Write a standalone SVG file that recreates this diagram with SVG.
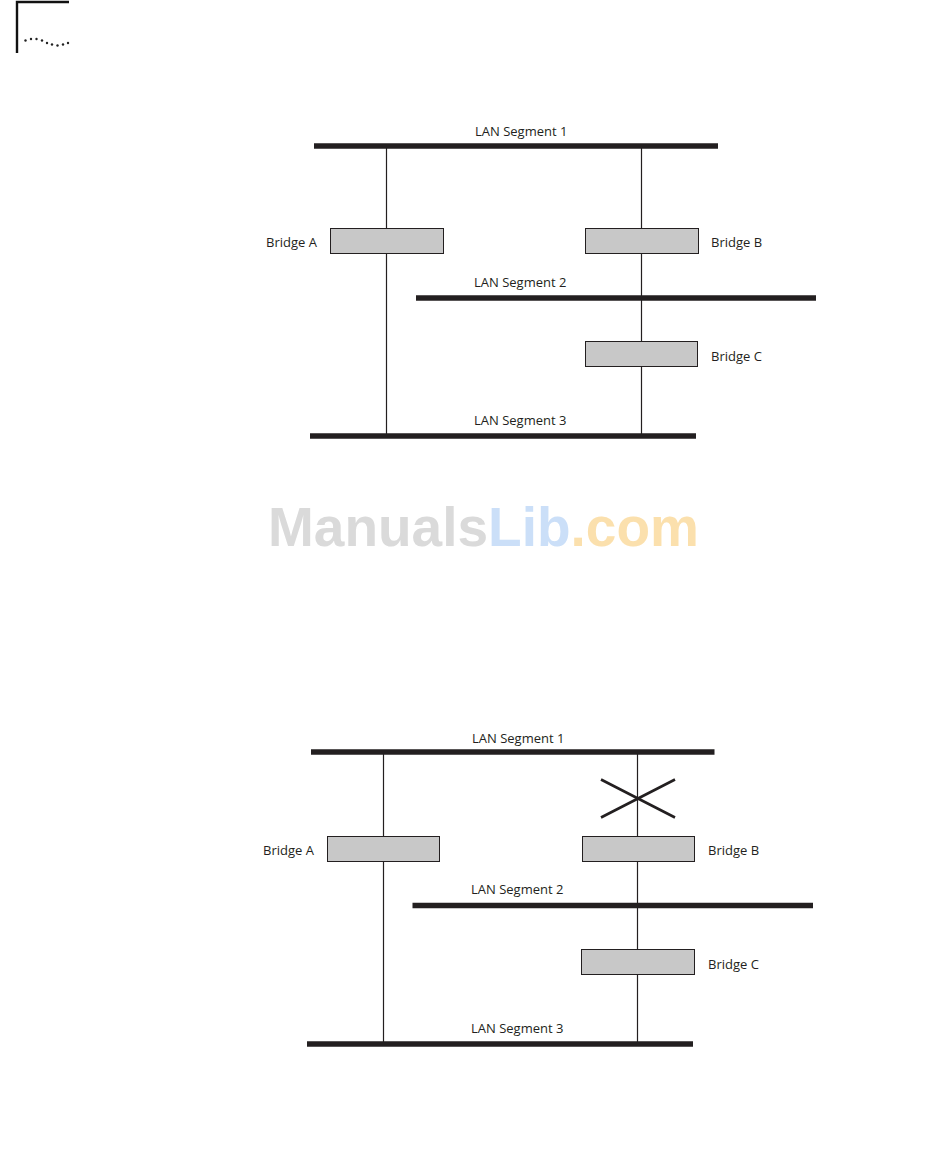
<svg xmlns="http://www.w3.org/2000/svg" width="950" height="1163" viewBox="0 0 950 1163">
<style>
.seg{stroke:#231f20;stroke-width:5.5;fill:none}
.wire{stroke:#231f20;stroke-width:1.2;fill:none}
.x{stroke:#231f20;stroke-width:2.6;fill:none}
.box{fill:#c8c8c8;stroke:#231f20;stroke-width:1}
.t{font-family:"Open Sans","Noto Sans",sans-serif;font-size:13px;fill:#231f20}
.wm{font-family:"Liberation Sans",Arial,sans-serif;font-size:55px;font-weight:bold}
</style>
<rect width="950" height="1163" fill="#fff"/>
<g id="page-mark">
<path d="M17 53V2H69" fill="none" stroke="#111" stroke-width="2.4"/>
<g fill="#222"><circle cx="25.500" cy="40.500" r="1.200"/><circle cx="31" cy="39" r="1.200"/><circle cx="36.500" cy="39" r="1.200"/><circle cx="42" cy="40.500" r="1.200"/><circle cx="47" cy="43" r="1.200"/><circle cx="52" cy="44.500" r="1.200"/><circle cx="57.500" cy="45.500" r="1.200"/><circle cx="63" cy="44.500" r="1.200"/><circle cx="68" cy="43" r="1.200"/></g>
</g>
<g id="connectors">
<path class="wire" d="M386.500 146V436M641.500 146V436"/>
<path class="wire" d="M383.500 752V1044M637.500 752V1044"/>
</g>
<g id="d1-seg1"><path class="seg" d="M314 146H718"/><text class="t" x="475" y="136">LAN Segment 1</text></g>
<g id="d1-seg2"><path class="seg" d="M416 298H816"/><text class="t" x="474" y="287">LAN Segment 2</text></g>
<g id="d1-seg3"><path class="seg" d="M310 436H696"/><text class="t" x="474" y="425">LAN Segment 3</text></g>
<g id="d1-bridge-a"><rect class="box" x="330.500" y="228.500" width="113" height="25"/><text class="t" x="266" y="247">Bridge A</text></g>
<g id="d1-bridge-b"><rect class="box" x="585.500" y="228.500" width="113" height="25"/><text class="t" x="711" y="247">Bridge B</text></g>
<g id="d1-bridge-c"><rect class="box" x="585.500" y="341.500" width="112" height="25"/><text class="t" x="711" y="361">Bridge C</text></g>
<g id="d2-seg1"><path class="seg" d="M311 752H714.500"/><text class="t" x="472" y="743">LAN Segment 1</text></g>
<g id="d2-seg2"><path class="seg" d="M412.500 905.500H813"/><text class="t" x="471" y="894">LAN Segment 2</text></g>
<g id="d2-seg3"><path class="seg" d="M307 1044H693"/><text class="t" x="471" y="1033">LAN Segment 3</text></g>
<g id="d2-bridge-a"><rect class="box" x="327.500" y="836.500" width="112" height="25"/><text class="t" x="263" y="855">Bridge A</text></g>
<g id="d2-bridge-b"><rect class="box" x="582.500" y="836.500" width="112" height="25"/><text class="t" x="708" y="855">Bridge B</text></g>
<g id="d2-bridge-c"><rect class="box" x="581.500" y="949.500" width="113" height="25"/><text class="t" x="708" y="969">Bridge C</text></g>
<g id="d2-cross"><path class="x" d="M601 779.500L675 817.500M601 817.500L675 779.500"/></g>
<text class="wm" x="268" y="546"><tspan fill="#dadada">Manuals</tspan><tspan fill="#cbdff8">Lib</tspan><tspan fill="#fbe0ad">.com</tspan></text>
</svg>
